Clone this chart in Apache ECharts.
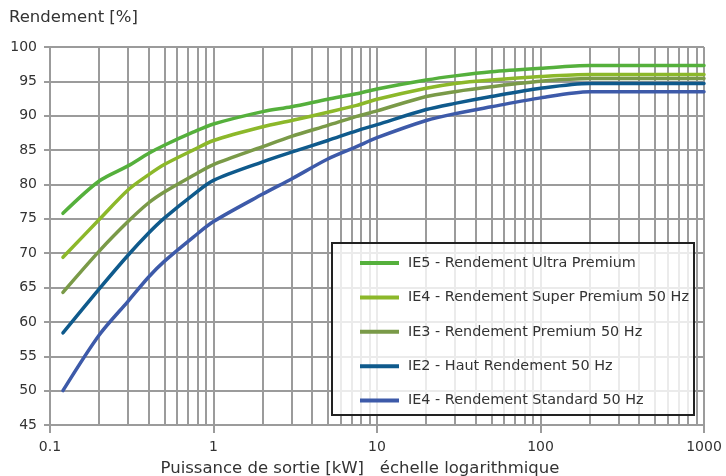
<!DOCTYPE html>
<html>
<head>
<meta charset="utf-8">
<script src="https://cdn.jsdelivr.net/npm/echarts@6/dist/echarts.min.js"></script>
<style>
  html, body { margin: 0; padding: 0; background: #fff; overflow: hidden; }
  #chart { width: 726px; height: 476px; }
</style>
</head>
<body>
<div id="chart"></div>
<script>
// Output power (kW) sample points, shared by every efficiency class
const powerKW = [0.12, 0.2, 0.3, 0.4, 0.5, 0.75, 1, 2, 3, 5, 7.5, 10, 20, 30, 50, 100, 200, 1000];

// Efficiency (%) per class
const ie5 = [75.8, 80.5, 82.7, 84.5, 85.7, 87.6, 88.8, 90.6, 91.3, 92.4, 93.2, 93.9, 95.2, 95.8, 96.4, 96.9, 97.3, 97.3];
const ie4 = [69.4, 74.9, 79.2, 81.4, 82.9, 85.0, 86.4, 88.4, 89.3, 90.5, 91.5, 92.4, 94.0, 94.7, 95.2, 95.7, 96.0, 96.0];
const ie3 = [64.3, 70.3, 74.6, 77.3, 78.9, 81.3, 82.9, 85.5, 87.0, 88.6, 89.9, 90.7, 92.8, 93.5, 94.2, 95.0, 95.4, 95.4];
const ie2 = [58.4, 64.8, 69.7, 72.9, 75.1, 78.5, 80.6, 83.3, 84.7, 86.4, 87.8, 88.7, 90.9, 91.8, 92.8, 94.0, 94.7, 94.7];
const ie1 = [50.0, 58.1, 63.0, 66.5, 68.8, 72.3, 74.6, 78.6, 80.8, 83.7, 85.5, 86.8, 89.3, 90.3, 91.3, 92.6, 93.5, 93.5];

const seriesNames = [
  'IE5 - Rendement Ultra Premium',
  'IE4 - Rendement Super Premium 50 Hz',
  'IE3 - Rendement Premium 50 Hz',
  'IE2 - Haut Rendement 50 Hz',
  'IE4 - Rendement Standard 50 Hz'
];
const seriesColors = ['#55b03c', '#8cb82a', '#7a9a48', '#0f5a8c', '#3d5aa9'];
const seriesValues = [ie5, ie4, ie3, ie2, ie1];

// Axis tick labels
const xTickLabels = ['0.1', '1', '10', '100', '1000'];
const yMin = 45, yMax = 100, yStep = 5;

// Minor vertical grid lines at 2..9 within each decade
const minorGridKW = [];
for (let d = -1; d < 3; d++) {
  for (let m = 2; m <= 9; m++) minorGridKW.push(+(m * Math.pow(10, d)).toPrecision(3));
}

const FONT = 'DejaVu Sans';
const gridGrey = '#9b9b9b';
const textGrey = '#333';

const chart = echarts.init(document.getElementById('chart'), null, { renderer: 'canvas' });

const lineSeries = seriesNames.map((name, i) => ({
  name: name,
  type: 'line',
  data: powerKW.map((p, j) => [p, seriesValues[i][j]]),
  showSymbol: false,
  symbol: 'none',
  smooth: 0.3,
  lineStyle: { width: 3.5, color: seriesColors[i], cap: 'round' },
  itemStyle: { color: seriesColors[i] },
  z: 5
}));

// Helper series that only carries the minor vertical grid lines
lineSeries.push({
  name: 'grid-minor',
  type: 'line',
  data: [],
  z: 1,
  silent: true,
  markLine: {
    silent: true,
    symbol: ['none', 'none'],
    label: { show: false },
    lineStyle: { color: gridGrey, width: 2, type: 'solid' },
    data: minorGridKW.map(v => ({ xAxis: v })),
    animation: false
  }
});

chart.setOption({
  animation: false,
  backgroundColor: '#ffffff',
  title: {
    text: 'Rendement [%]',
    left: 9,
    top: 9,
    padding: 0,
    textStyle: { fontFamily: FONT, fontSize: 16.5, fontWeight: 'normal', color: textGrey }
  },
  grid: { left: 50, right: 22, top: 47, bottom: 51, containLabel: false, outerBoundsMode: 'none' },
  graphic: {
    elements: [{
      type: 'rect',
      left: 331,
      top: 242,
      z: 100,
      zlevel: 0,
      shape: { width: 362, height: 172 },
      style: { fill: 'rgba(255,255,255,0.8)', stroke: '#222', lineWidth: 2 }
    }]
  },
  legend: {
    data: seriesNames,
    orient: 'vertical',
    left: 360,
    top: 256,
    padding: 0,
    z: 120,
    itemWidth: 39,
    itemHeight: 14,
    itemGap: 20.4,
    icon: 'path://M0,6 L39,6 L39,10 L0,10 Z',
    textStyle: { fontFamily: FONT, fontSize: 14.4, color: textGrey, padding: [0, 0, 0, 4] }
  },
  xAxis: {
    type: 'log',
    logBase: 10,
    min: 0.1,
    max: 1000,
    name: 'Puissance de sortie [kW]   échelle logarithmique',
    nameLocation: 'middle',
    nameGap: 35,
    nameTextStyle: { fontFamily: FONT, fontSize: 16.5, color: textGrey, padding: [0, 34, 0, 0] },
    axisLine: { show: true, lineStyle: { color: gridGrey, width: 2 } },
    axisTick: { show: true, length: 8, lineStyle: { color: gridGrey, width: 2 } },
    axisLabel: {
      fontFamily: FONT, fontSize: 14, color: textGrey, margin: 15,
      formatter: v => xTickLabels[Math.round(Math.log10(v)) + 1]
    },
    splitLine: { show: true, lineStyle: { color: gridGrey, width: 2 } },
    minorTick: { show: false },
    minorSplitLine: { show: false }
  },
  yAxis: {
    type: 'value',
    min: yMin,
    max: yMax,
    interval: yStep,
    axisLine: { show: true, lineStyle: { color: gridGrey, width: 2 } },
    axisTick: { show: true, length: 6, lineStyle: { color: gridGrey, width: 2 } },
    axisLabel: { fontFamily: FONT, fontSize: 14, color: textGrey, margin: 13 },
    splitLine: { show: true, lineStyle: { color: gridGrey, width: 2 } }
  },
  series: lineSeries
});
</script>
</body>
</html>
